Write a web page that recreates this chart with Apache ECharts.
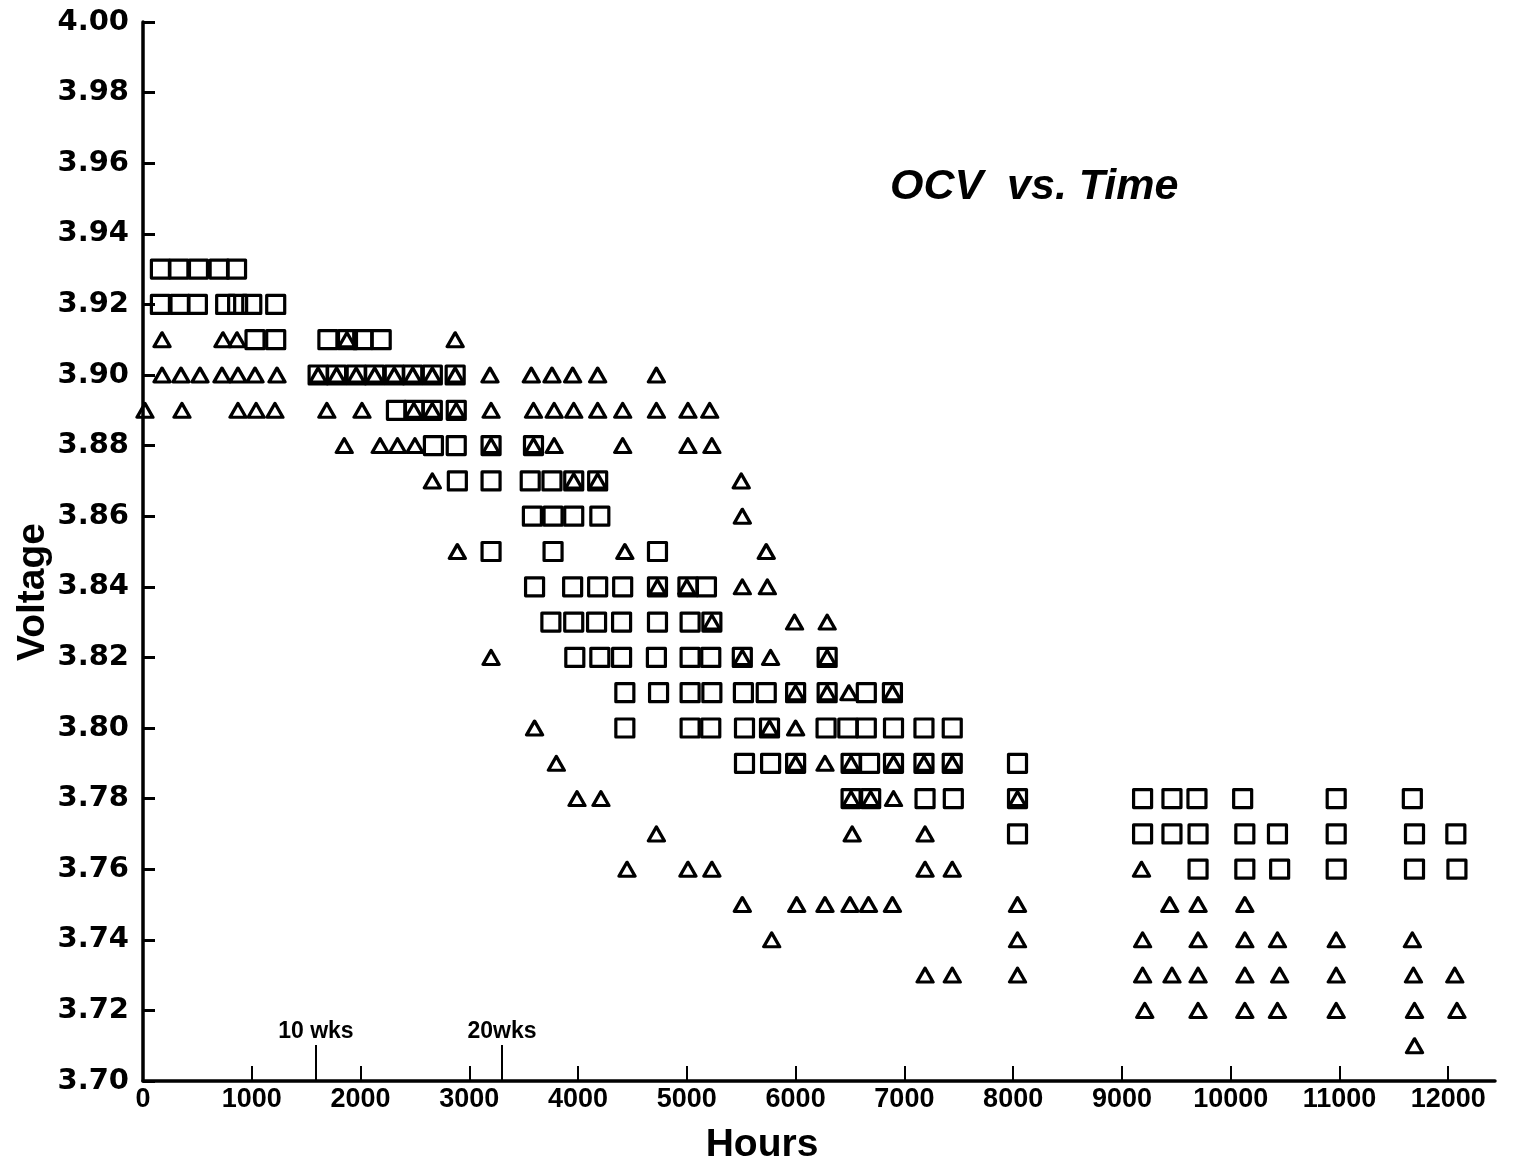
<!DOCTYPE html>
<html>
<head>
<meta charset="utf-8">
<title>OCV vs. Time</title>
<script src="https://cdn.jsdelivr.net/npm/echarts@6/dist/echarts.min.js"></script>
<style>
  html, body { margin: 0; padding: 0; background: #fff; }
  #chart { width: 1538px; height: 1169px; }
</style>
</head>
<body>
<div id="chart"></div>
<script>
// x axis ticks (hours)
const hourTicks = [0, 1000, 2000, 3000, 4000, 5000, 6000, 7000, 8000, 9000, 10000, 11000, 12000];

// week markers on the time axis
const weekHours = [1590, 3300];
const weekLabels = ['10 wks', '20wks'];

// square cells [hours, voltage]
const squarePoints = [
  [160, 3.93], [330, 3.93], [510, 3.93], [700, 3.93], [860, 3.93],
  [160, 3.92], [340, 3.92], [500, 3.92], [760, 3.92], [870, 3.92], [1000, 3.92], [1220, 3.92],
  [1030, 3.91], [1220, 3.91], [1700, 3.91], [1880, 3.91], [2020, 3.91], [2190, 3.91],
  [1610, 3.90], [1780, 3.90], [1960, 3.90], [2130, 3.90], [2310, 3.90], [2480, 3.90], [2660, 3.90], [2870, 3.90],
  [2330, 3.89], [2490, 3.89], [2660, 3.89], [2880, 3.89],
  [2670, 3.88], [2880, 3.88], [3200, 3.88], [3590, 3.88],
  [2890, 3.87], [3200, 3.87], [3560, 3.87], [3760, 3.87], [3960, 3.87], [4180, 3.87],
  [3580, 3.86], [3770, 3.86], [3960, 3.86], [4200, 3.86],
  [3200, 3.85], [3770, 3.85], [4730, 3.85],
  [3600, 3.84], [3950, 3.84], [4180, 3.84], [4410, 3.84], [4730, 3.84], [5010, 3.84], [5180, 3.84],
  [3750, 3.83], [3960, 3.83], [4170, 3.83], [4400, 3.83], [4730, 3.83], [5030, 3.83], [5230, 3.83],
  [3970, 3.82], [4200, 3.82], [4400, 3.82], [4720, 3.82], [5030, 3.82], [5220, 3.82], [5510, 3.82], [6290, 3.82],
  [4430, 3.81], [4740, 3.81], [5030, 3.81], [5230, 3.81], [5520, 3.81], [5730, 3.81], [6000, 3.81], [6290, 3.81], [6650, 3.81], [6890, 3.81],
  [4430, 3.80], [5030, 3.80], [5220, 3.80], [5530, 3.80], [5760, 3.80], [6280, 3.80], [6480, 3.80], [6650, 3.80], [6900, 3.80], [7180, 3.80], [7440, 3.80],
  [5530, 3.79], [5770, 3.79], [6000, 3.79], [6510, 3.79], [6680, 3.79], [6900, 3.79], [7180, 3.79], [7440, 3.79], [8040, 3.79],
  [6510, 3.78], [6690, 3.78], [7190, 3.78], [7450, 3.78], [8040, 3.78], [9190, 3.78], [9460, 3.78], [9690, 3.78], [10110, 3.78], [10970, 3.78], [11670, 3.78],
  [8040, 3.77], [9190, 3.77], [9460, 3.77], [9700, 3.77], [10130, 3.77], [10430, 3.77], [10970, 3.77], [11690, 3.77], [12070, 3.77],
  [9700, 3.76], [10130, 3.76], [10450, 3.76], [10970, 3.76], [11690, 3.76], [12080, 3.76]
];

// triangle cells [hours, voltage]
const trianglePoints = [
  [175, 3.91], [735, 3.91], [864, 3.91], [1875, 3.91], [2870, 3.91],
  [175, 3.90], [349, 3.90], [524, 3.90], [726, 3.90], [873, 3.90], [1030, 3.90], [1232, 3.90],
  [1610, 3.90], [1780, 3.90], [1960, 3.90], [2130, 3.90], [2310, 3.90], [2480, 3.90], [2660, 3.90], [2870, 3.90],
  [3190, 3.90], [3570, 3.90], [3760, 3.90], [3950, 3.90], [4180, 3.90], [4720, 3.90],
  [18, 3.89], [358, 3.89], [873, 3.89], [1040, 3.89], [1213, 3.89], [1690, 3.89], [2013, 3.89], [2490, 3.89], [2660, 3.89],
  [2880, 3.89], [3200, 3.89], [3590, 3.89], [3780, 3.89], [3960, 3.89], [4180, 3.89], [4410, 3.89], [4720, 3.89], [5010, 3.89], [5210, 3.89],
  [1850, 3.88], [2180, 3.88], [2340, 3.88], [2500, 3.88], [3200, 3.88], [3590, 3.88], [3780, 3.88], [4410, 3.88], [5010, 3.88], [5230, 3.88],
  [2660, 3.87], [3960, 3.87], [4180, 3.87], [5500, 3.87],
  [5510, 3.86],
  [2890, 3.85], [4430, 3.85], [5730, 3.85],
  [4730, 3.84], [5000, 3.84], [5510, 3.84], [5740, 3.84],
  [5230, 3.83], [5990, 3.83], [6290, 3.83],
  [3200, 3.82], [5510, 3.82], [5770, 3.82], [6290, 3.82],
  [6000, 3.81], [6290, 3.81], [6490, 3.81], [6890, 3.81],
  [3600, 3.80], [5760, 3.80], [6000, 3.80],
  [3800, 3.79], [6000, 3.79], [6270, 3.79], [6510, 3.79], [6900, 3.79], [7180, 3.79], [7440, 3.79],
  [3990, 3.78], [4210, 3.78], [6510, 3.78], [6690, 3.78], [6900, 3.78], [8040, 3.78],
  [4720, 3.77], [6520, 3.77], [7190, 3.77],
  [4450, 3.76], [5010, 3.76], [5230, 3.76], [7190, 3.76], [7440, 3.76], [9180, 3.76],
  [5510, 3.75], [6010, 3.75], [6270, 3.75], [6500, 3.75], [6670, 3.75], [6890, 3.75], [8040, 3.75], [9440, 3.75], [9700, 3.75], [10130, 3.75],
  [5780, 3.74], [8040, 3.74], [9190, 3.74], [9700, 3.74], [10130, 3.74], [10430, 3.74], [10970, 3.74], [11670, 3.74],
  [7190, 3.73], [7440, 3.73], [8040, 3.73], [9190, 3.73], [9460, 3.73], [9700, 3.73], [10130, 3.73], [10450, 3.73], [10970, 3.73], [11680, 3.73], [12060, 3.73],
  [9210, 3.72], [9700, 3.72], [10130, 3.72], [10430, 3.72], [10970, 3.72], [11690, 3.72], [12080, 3.72],
  [11690, 3.71]
];

const chart = echarts.init(document.getElementById('chart'), null, { renderer: 'canvas' });

const markStyle = {
  color: 'transparent',
  borderColor: '#000',
  borderWidth: 3.2,
  borderJoin: 'round',
  opacity: 1
};

chart.setOption({
  backgroundColor: '#fff',
  animation: false,
  title: {
    text: 'OCV  vs. Time',
    left: 890,
    top: 166,
    padding: 0,
    textStyle: {
      fontFamily: 'Liberation Sans, Arial, sans-serif',
      fontSize: 43,
      fontWeight: 'bold',
      fontStyle: 'italic',
      color: '#000'
    }
  },
  grid: { left: 143, right: 43, top: 22, bottom: 88 },
  xAxis: {
    type: 'value',
    min: 0,
    max: 12430,
    axisLine: { lineStyle: { color: '#000', width: 3.5 } },
    axisTick: {
      inside: true,
      length: 15,
      customValues: hourTicks,
      lineStyle: { color: '#000', width: 2 }
    },
    axisLabel: {
      customValues: hourTicks,
      margin: 5,
      color: '#000',
      fontFamily: 'Liberation Sans, Arial, sans-serif',
      fontWeight: 'bold',
      fontSize: 27,
      formatter: function (v) { return String(v); }
    },
    splitLine: { show: false }
  },
  yAxis: {
    type: 'value',
    min: 3.70,
    max: 4.00,
    interval: 0.02,
    axisLine: { lineStyle: { color: '#000', width: 3.5 } },
    axisTick: {
      inside: true,
      length: 12,
      lineStyle: { color: '#000', width: 3 }
    },
    axisLabel: {
      margin: 14,
      color: '#000',
      fontFamily: 'DejaVu Sans, sans-serif',
      fontWeight: 'bold',
      fontSize: 29,
      formatter: function (v) { return v.toFixed(2); }
    },
    splitLine: { show: false }
  },
  graphic: [
    {
      type: 'text',
      x: 762,
      y: 1145,
      style: {
        text: 'Hours',
        font: 'bold 39px "Liberation Sans", Arial, sans-serif',
        fill: '#000',
        textAlign: 'center',
        textVerticalAlign: 'middle'
      }
    },
    {
      type: 'text',
      x: 33,
      y: 592,
      rotation: Math.PI / 2,
      style: {
        text: 'Voltage',
        font: 'bold 39px "Liberation Sans", Arial, sans-serif',
        fill: '#000',
        textAlign: 'center',
        textVerticalAlign: 'middle'
      }
    }
  ],
  series: [
    {
      name: 'square',
      type: 'scatter',
      symbol: 'rect',
      symbolSize: 18,
      itemStyle: markStyle,
      data: squarePoints,
      z: 2,
      markLine: {
        silent: true,
        symbol: ['none', 'none'],
        lineStyle: { color: '#000', width: 2, type: 'solid', opacity: 1 },
        label: {
          show: true,
          position: 'end',
          distance: 2,
          color: '#000',
          fontFamily: 'Liberation Sans, Arial, sans-serif',
          fontWeight: 'bold',
          fontSize: 23,
          formatter: function (p) { return p.name; }
        },
        data: weekHours.map(function (h, i) {
          return [
            { name: weekLabels[i], coord: [h, 3.70] },
            { coord: [h, 3.7102] }
          ];
        })
      }
    },
    {
      name: 'triangle',
      type: 'scatter',
      symbol: 'triangle',
      symbolSize: [16, 14],
      itemStyle: markStyle,
      data: trianglePoints,
      z: 3
    }
  ]
});
</script>
</body>
</html>
